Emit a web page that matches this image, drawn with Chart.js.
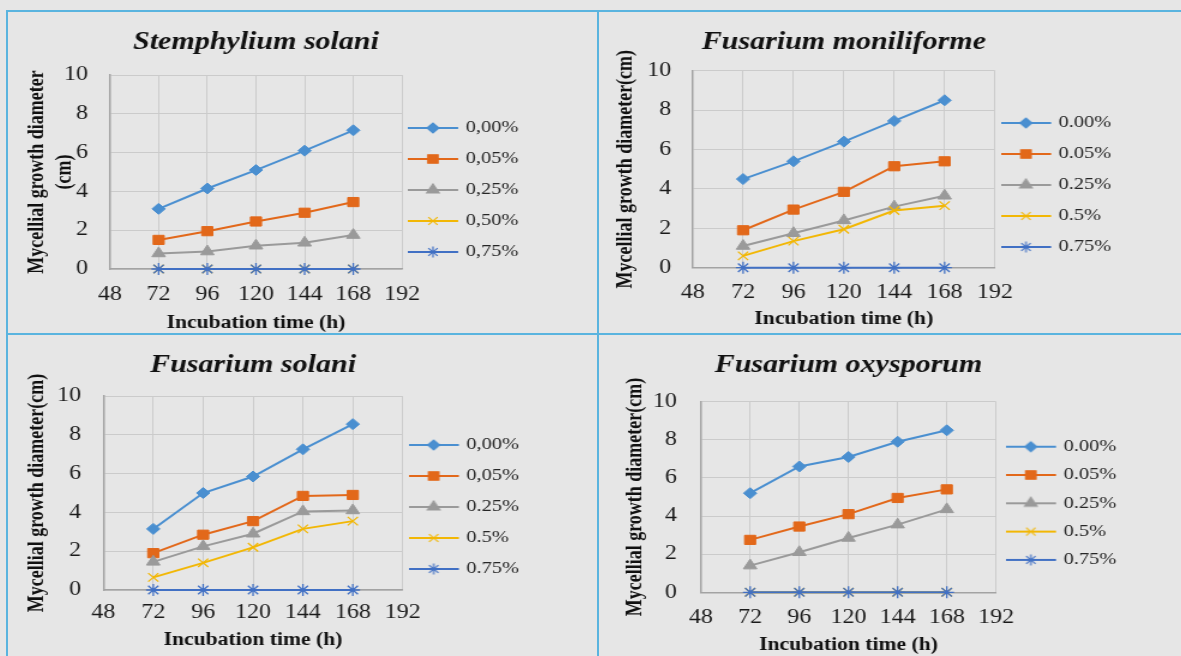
<!DOCTYPE html>
<html>
<head>
<meta charset="utf-8">
<script src="https://cdn.jsdelivr.net/npm/chart.js@4.4.0/dist/chart.umd.min.js"></script>
<style>
  body { margin: 0; width: 1181px; height: 656px; overflow: hidden; position: relative; background: #e6e6e6; }
  .panel { position: absolute; overflow: hidden; }
  /* the source picture is stretched ~1.2x horizontally */
  .stretch { position: absolute; left: 0; top: 0; transform: scaleX(1.2); transform-origin: 0 0; }
  .rule { position: absolute; background: #5ab4df; }
</style>
</head>
<body>
<div class="rule" style="left:7px;top:10px;width:1174px;height:2px"></div>
<div class="rule" style="left:7px;top:333px;width:1174px;height:2px"></div>
<div class="rule" style="left:6px;top:10px;width:2px;height:646px"></div>
<div class="rule" style="left:597px;top:10px;width:2px;height:646px"></div>

<div class="panel" style="left:8px;top:12px;width:589px;height:321px">
  <div class="stretch" style="left:-1px;top:-1px;width:492px;height:323px"><canvas id="chart-stem"></canvas></div>
</div>
<div class="panel" style="left:599px;top:12px;width:582px;height:321px">
  <div class="stretch" style="left:-1px;top:-1px;width:486px;height:323px"><canvas id="chart-monil"></canvas></div>
</div>
<div class="panel" style="left:8px;top:335px;width:589px;height:321px">
  <div class="stretch" style="left:-1px;top:-1px;width:492px;height:322px"><canvas id="chart-solani"></canvas></div>
</div>
<div class="panel" style="left:599px;top:335px;width:582px;height:321px">
  <div class="stretch" style="left:-1px;top:-1px;width:486px;height:322px"><canvas id="chart-oxy"></canvas></div>
</div>

<script>
// 배양 시간 (h)
const hours = [72, 96, 120, 144, 168];

// 범례 라벨
const labelsComma = ['0,00%', '0,05%', '0,25%', '0,50%', '0,75%'];
const labelsDot = ['0.00%', '0.05%', '0.25%', '0.5%', '0.75%'];
const labelsMixed = ['0,00%', '0,05%', '0.25%', '0.5%', '0.75%'];

// Stemphylium solani
const stem00 = [3.1, 4.15, 5.1, 6.1, 7.15];
const stem05 = [1.5, 1.95, 2.45, 2.9, 3.45];
const stem25 = [0.8, 0.9, 1.2, 1.35, 1.75];
const stem50 = [0, 0, 0, 0, 0];
const stem75 = [0, 0, 0, 0, 0];

// Fusarium moniliforme
const monil00 = [4.5, 5.4, 6.4, 7.45, 8.5];
const monil05 = [1.9, 2.95, 3.85, 5.15, 5.4];
const monil25 = [1.1, 1.75, 2.4, 3.1, 3.65];
const monil50 = [0.6, 1.35, 1.95, 2.9, 3.15];
const monil75 = [0, 0, 0, 0, 0];

// Fusarium solani
const solani00 = [3.15, 5.0, 5.85, 7.25, 8.55];
const solani05 = [1.9, 2.85, 3.55, 4.85, 4.9];
const solani25 = [1.45, 2.25, 2.9, 4.05, 4.1];
const solani50 = [0.65, 1.4, 2.2, 3.15, 3.55];
const solani75 = [0, 0, 0, 0, 0];

// Fusarium oxysporum
const oxy00 = [5.2, 6.6, 7.1, 7.9, 8.5];
const oxy05 = [2.75, 3.45, 4.1, 4.95, 5.4];
const oxy25 = [1.4, 2.1, 2.85, 3.55, 4.35];
const oxy50 = [0, 0, 0, 0, 0];
const oxy75 = [0, 0, 0, 0, 0];

// 시리즈 스타일
const seriesColors = ['#4a8fd0', '#e2681a', '#9a9a9a', '#f2b705', '#4170c4'];
const markerStyles = ['rectRot', 'rect', 'triangle', 'crossRot', 'star'];
const markerRadius = [5.5, 6.5, 6.5, 6, 6];

const SERIF = "'Liberation Serif', 'Times New Roman', serif";
const LINE_LEN = 42;
const LEGEND_FONT = 17;

const measureCtx = document.createElement('canvas').getContext('2d');
measureCtx.font = LEGEND_FONT + 'px ' + SERIF;

// 범례 아이콘 (선 + 마커)
function legendIcon(i, width) {
  const c = document.createElement('canvas');
  c.width = width;
  c.height = 16;
  const ctx = c.getContext('2d');
  ctx.strokeStyle = seriesColors[i];
  ctx.fillStyle = seriesColors[i];
  ctx.lineWidth = 2;
  ctx.beginPath();
  ctx.moveTo(0, 8);
  ctx.lineTo(LINE_LEN, 8);
  ctx.stroke();
  ctx.lineWidth = 1.2;
  Chart.helpers.drawPoint(ctx, { pointStyle: markerStyles[i], radius: markerRadius[i] - 0.5, rotation: 0, borderWidth: 1.2 }, LINE_LEN / 2, 8);
  return c;
}

function makeChart(id, title, yTitle, legendLabels, series, box) {
  const lead = box.legendGap - box.legendPad;
  const boxWidth = lead + LINE_LEN + 6 - LEGEND_FONT / 2;
  const iconWidth = Math.round(boxWidth - 2 * lead);
  const icons = series.map((s, i) => legendIcon(i, iconWidth));

  // 범례 폭을 계산해서 플롯 오른쪽 끝 위치를 맞춘다
  const textWidth = Math.max(...legendLabels.map(t => measureCtx.measureText(t).width));
  const legendWidth = box.legendPad + boxWidth + LEGEND_FONT / 2 + textWidth + 10;
  const padRight = box.width - box.plotRight - legendWidth;

  const datasets = series.map((vals, i) => ({
    label: legendLabels[i],
    data: hours.map((h, j) => ({ x: h, y: vals[j] })),
    borderColor: seriesColors[i],
    backgroundColor: seriesColors[i],
    pointStyle: markerStyles[i],
    pointRadius: markerRadius[i],
    pointBorderWidth: i >= 3 ? 1.3 : 1,
    borderWidth: 2,
    tension: 0,
    fill: false,
    clip: false,
    order: series.length - i
  }));

  return new Chart(document.getElementById(id), {
    type: 'line',
    data: { datasets: datasets },
    options: {
      responsive: true,
      maintainAspectRatio: false,
      animation: false,
      layout: { padding: { left: box.padLeft, right: padRight, top: 0, bottom: 0 } },
      scales: {
        x: {
          type: 'linear',
          min: 48,
          max: 192,
          ticks: { stepSize: 24, padding: box.xTickPad, color: '#1a1a1a', font: { family: SERIF, size: 20 }, maxRotation: 0 },
          grid: { color: '#cbcbcb', drawTicks: false },
          border: { color: '#a3a3a3', width: 1.5 },
          title: {
            display: true,
            text: 'Incubation time (h)',
            color: '#111',
            font: { family: SERIF, size: 18, weight: 'bold' },
            padding: { top: 0, bottom: box.xTitlePadBottom }
          },
          afterFit: function(scale) { scale.height = box.xHeight; }
        },
        y: {
          min: 0,
          max: 10,
          ticks: { stepSize: 2, padding: box.yTickPad, color: '#1a1a1a', font: { family: SERIF, size: 20 } },
          grid: { color: '#cbcbcb', drawTicks: false },
          border: { color: '#a3a3a3', width: 1.5 },
          title: {
            display: true,
            text: yTitle,
            color: '#111',
            font: { family: SERIF, size: 18, weight: 'bold', lineHeight: 1.3 },
            padding: { top: 0, bottom: 0 }
          },
          afterFit: function(scale) { scale.width = box.yWidth; }
        }
      },
      plugins: {
        title: {
          display: true,
          text: title,
          color: '#111',
          fullSize: false,
          font: { family: SERIF, size: 25, weight: 'bold', style: 'italic', lineHeight: 1.2 },
          padding: { top: box.titlePadTop, bottom: box.titlePadBottom }
        },
        legend: {
          position: 'right',
          title: { display: true, text: '', font: { size: 10, lineHeight: 1 }, padding: { top: box.legendTop - 10, bottom: 0 } },
          labels: {
            usePointStyle: true,
            pointStyleWidth: boxWidth,
            padding: box.legendPad,
            color: '#262626',
            font: { family: SERIF, size: LEGEND_FONT },
            generateLabels: function(chart) {
              const items = Chart.defaults.plugins.legend.labels.generateLabels(chart);
              items.forEach(item => { item.pointStyle = icons[item.datasetIndex]; });
              return items;
            },
            sort: (a, b) => a.datasetIndex - b.datasetIndex
          }
        },
        tooltip: { enabled: false }
      }
    }
  });
}

makeChart('chart-stem', 'Stemphylium solani', ['Mycellial growth diameter', '(cm)'], labelsComma,
  [stem00, stem05, stem25, stem50, stem75],
  { width: 492, plotRight: 327.5, padLeft: 13.3, yWidth: 72.5, yTickPad: 18.3, titlePadTop: 17, titlePadBottom: 17,
    xHeight: 65, xTickPad: 14, xTitlePadBottom: 0, legendPad: 14, legendGap: 5, legendTop: 35 });

makeChart('chart-monil', 'Fusarium moniliforme', 'Mycellial growth diameter(cm)', labelsDot,
  [monil00, monil05, monil25, monil50, monil75],
  { width: 486, plotRight: 330.3, padLeft: 11.7, yWidth: 67.2, yTickPad: 18, titlePadTop: 16.7, titlePadBottom: 13,
    xHeight: 66.3, xTickPad: 13, xTitlePadBottom: 4.2, legendPad: 14, legendGap: 5, legendTop: 25 });

makeChart('chart-solani', 'Fusarium solani', 'Mycellial growth diameter(cm)', labelsMixed,
  [solani00, solani05, solani25, solani50, solani75],
  { width: 492, plotRight: 328.3, padLeft: 13.4, yWidth: 66.9, yTickPad: 18.6, titlePadTop: 16.7, titlePadBottom: 15.3,
    xHeight: 66, xTickPad: 11, xTitlePadBottom: 5.2, legendPad: 14, legendGap: 5, legendTop: 24 });

makeChart('chart-oxy', 'Fusarium oxysporum', 'Mycellial growth diameter(cm)', labelsDot,
  [oxy00, oxy05, oxy25, oxy50, oxy75],
  { width: 486, plotRight: 325.3, padLeft: 20, yWidth: 65.8, yTickPad: 20, titlePadTop: 16.7, titlePadBottom: 21,
    xHeight: 63.7, xTickPad: 13.4, xTitlePadBottom: 0, legendPad: 11.3, legendGap: 8.3, legendTop: 16.6 });
</script>
</body>
</html>
